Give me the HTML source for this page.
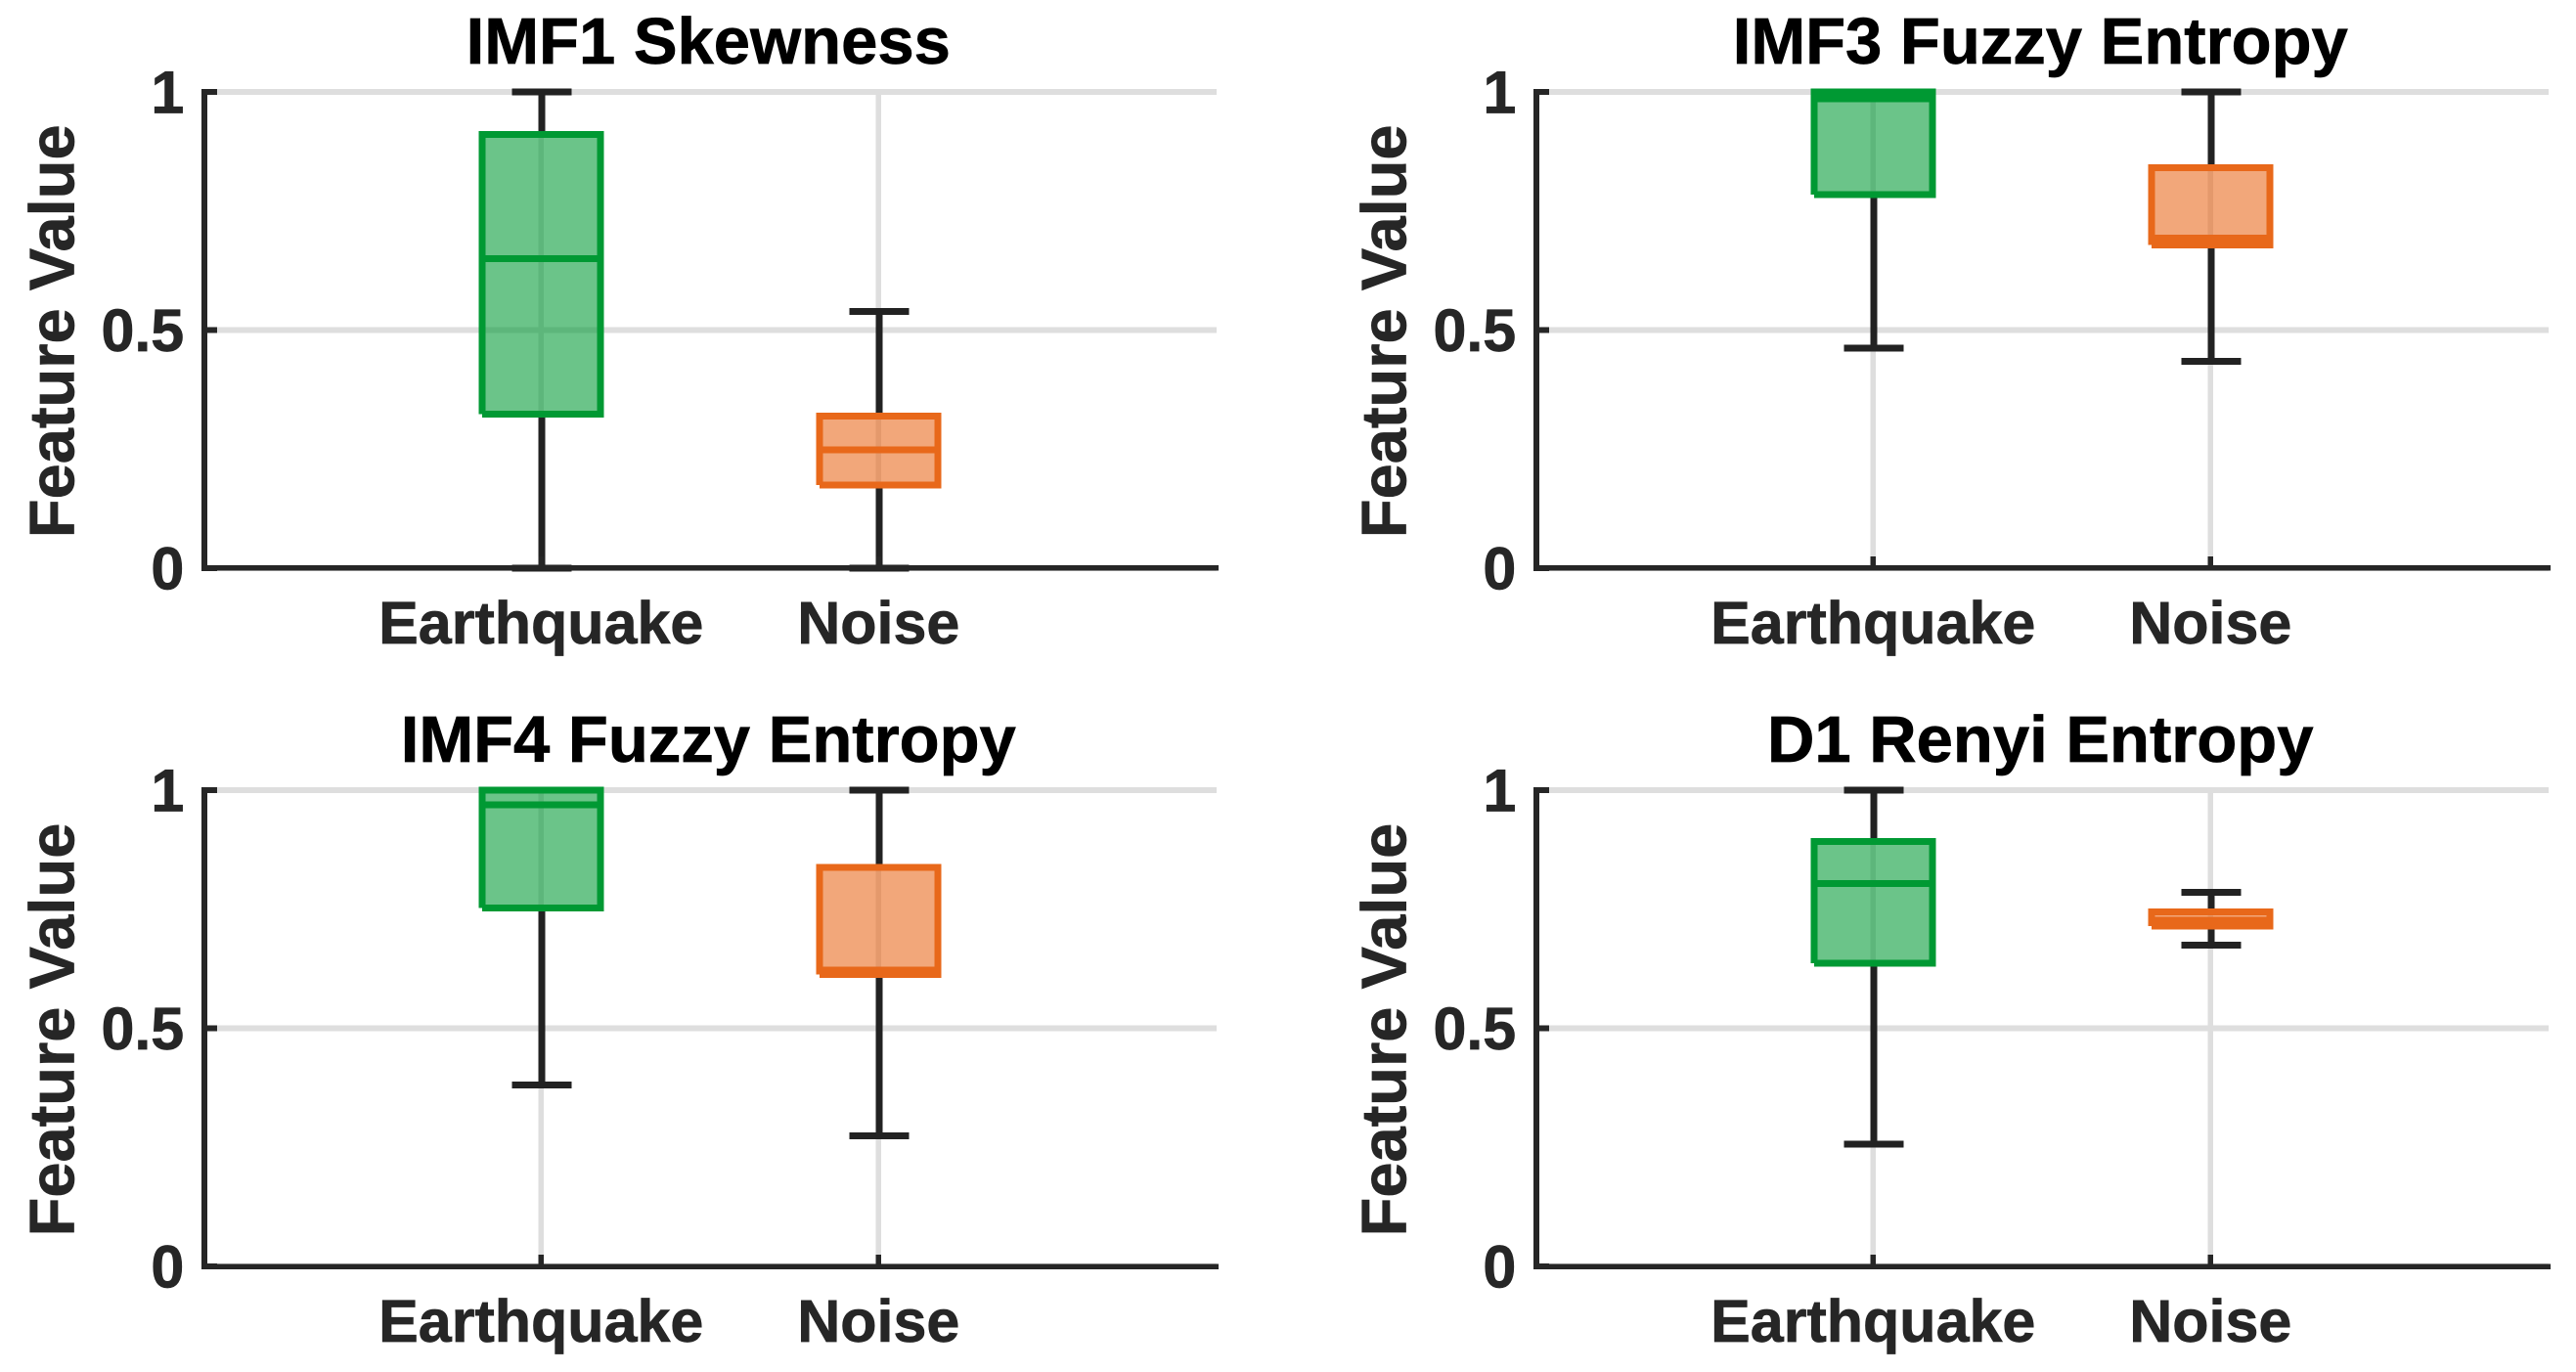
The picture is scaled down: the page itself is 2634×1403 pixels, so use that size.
<!DOCTYPE html>
<html lang="en">
<head>
<meta charset="utf-8">
<title>Feature value box plots</title>
<style>
  html, body { margin: 0; padding: 0; background: #ffffff; }
  #figure { display: block; position: absolute; left: 0; top: 0; }
  text { font-family: "Liberation Sans", Arial, sans-serif; font-weight: bold; stroke-width: 0.7px; paint-order: stroke; }
</style>
</head>
<body>
<svg id="figure" xmlns="http://www.w3.org/2000/svg" width="2634" height="1403" viewBox="0 0 2634 1403"></svg>
<script>
const panelTitles = ['IMF1 Skewness', 'IMF3 Fuzzy Entropy', 'IMF4 Fuzzy Entropy', 'D1 Renyi Entropy'];
const categories = ['Earthquake', 'Noise'];
const yAxisTitle = 'Feature Value';
const yTickValues = [0, 0.5, 1];
const yTickLabels = ['0', '0.5', '1'];

const earthquakeLow = [0, 0.461, 0.381, 0.257];
const earthquakeQ1 = [0.3225, 0.784, 0.753, 0.637];
const earthquakeMedian = [0.6495, 0.9846, 0.969, 0.804];
const earthquakeQ3 = [0.91, 1, 1, 0.892];
const earthquakeHigh = [1, 1, 1, 1];

const noiseLow = [0, 0.434, 0.2745, 0.6745];
const noiseQ1 = [0.174, 0.678, 0.613, 0.7146];
const noiseMedian = [0.248, 0.692, 0.6225, 0.727];
const noiseQ3 = [0.319, 0.84, 0.838, 0.744];
const noiseHigh = [0.538, 1, 1, 0.785];

const NS = 'http://www.w3.org/2000/svg';
const svg = document.getElementById('figure');

const AXIS_COLOR = '#262626';
const WHISKER_COLOR = '#222222';
const GRID_COLOR = '#dedede';
const GREEN = '#009933';
const ORANGE = '#e8681a';

function el(tag, parent, attrs) {
  const node = document.createElementNS(NS, tag);
  for (const key in attrs) node.setAttribute(key, attrs[key]);
  parent.appendChild(node);
  return node;
}

function drawLine(parent, x1, y1, x2, y2, color, width, name) {
  const line = el('line', parent, { x1: x1, y1: y1, x2: x2, y2: y2, stroke: color, 'stroke-width': width, 'shape-rendering': 'crispEdges' });
  
  
  return line;
}

function drawBox(parent, cx, lowY, q1Y, medY, q3Y, highY, color, slug) {
  const capHalf = 30.5;
  const boxHalf = 60.5;
  const bx = cx - 0.5;
  drawLine(parent, cx, q3Y, cx, highY, WHISKER_COLOR, 7, slug + '-upper-whisker');
  drawLine(parent, cx, q1Y, cx, lowY, WHISKER_COLOR, 7, slug + '-lower-whisker');
  drawLine(parent, cx - capHalf, highY, cx + capHalf, highY, WHISKER_COLOR, 7, slug + '-upper-cap');
  drawLine(parent, cx - capHalf, lowY, cx + capHalf, lowY, WHISKER_COLOR, 7, slug + '-lower-cap');

  const fill = el('rect', parent, { x: bx - boxHalf, y: q3Y, width: boxHalf * 2, height: q1Y - q3Y, fill: color, 'fill-opacity': 0.58, 'shape-rendering': 'crispEdges' });
  
  

  const L = bx - boxHalf, R = bx + boxHalf;
  const outline = el('path', parent, {
    d: 'M' + L + ' ' + q1Y + 'L' + L + ' ' + q3Y + 'L' + R + ' ' + q3Y + 'L' + R + ' ' + q1Y + 'L' + L + ' ' + q1Y,
    fill: 'none', stroke: color, 'stroke-width': 7, 'stroke-linejoin': 'miter', 'stroke-linecap': 'butt', 'shape-rendering': 'crispEdges'
  });
  
  

  drawLine(parent, L, medY, R, medY, color, 7, slug + '-median');
}

function drawPanel(index) {
  const col = index % 2;
  const row = Math.floor(index / 2);
  const originX = col === 0 ? 208.75 : 1570.75;
  const y0 = row === 0 ? 580.75 : 1295;
  const xUnit = 345;
  const yRange = 487;
  const axisEndX = originX + 1037;
  const xPos = function (i) { return originX + xUnit * (i + 1); };
  const yPos = function (v) { return y0 - yRange * v; };
  const xMax = originX + xUnit * 3;

  const g = el('g', svg, {});
  
  

  // grid
  yTickValues.forEach(function (v) {
    drawLine(g, originX, yPos(v), xMax, yPos(v), GRID_COLOR, 6, 'y-gridline');
  });
  categories.forEach(function (c, i) {
    drawLine(g, xPos(i) - 0.5, yPos(1), xPos(i) - 0.5, y0, GRID_COLOR, 5.5, 'x-gridline');
  });

  // boxes
  drawBox(g, xPos(0), yPos(earthquakeLow[index]), yPos(earthquakeQ1[index]), yPos(earthquakeMedian[index]), yPos(earthquakeQ3[index]), yPos(earthquakeHigh[index]), GREEN, 'earthquake');
  drawBox(g, xPos(1), yPos(noiseLow[index]), yPos(noiseQ1[index]), yPos(noiseMedian[index]), yPos(noiseQ3[index]), yPos(noiseHigh[index]), ORANGE, 'noise');

  // axes
  drawLine(g, originX, yPos(1) - 3, originX, y0 + 3, AXIS_COLOR, 6, 'y-axis-line');
  drawLine(g, originX - 3, y0, axisEndX, y0, AXIS_COLOR, 5.5, 'x-axis-line');

  // y ticks and labels
  yTickValues.forEach(function (v, i) {
    drawLine(g, originX, yPos(v), originX + 13, yPos(v), AXIS_COLOR, 6, 'y-tick');
    const label = el('text', g, { x: originX - 20.5, y: yPos(v) + 21.5, 'text-anchor': 'end', 'font-size': 61, fill: AXIS_COLOR, stroke: AXIS_COLOR });
    
    
    label.textContent = yTickLabels[i];
  });

  // x ticks and labels
  categories.forEach(function (c, i) {
    drawLine(g, xPos(i) - 0.5, y0, xPos(i) - 0.5, y0 - 12, AXIS_COLOR, 5.5, 'x-tick');
    const label = el('text', g, { x: xPos(i) - 0.5, y: y0 + 77, 'text-anchor': 'middle', 'font-size': 61, fill: AXIS_COLOR, stroke: AXIS_COLOR });
    
    
    label.textContent = c;
  });

  // title
  const title = el('text', g, { x: originX + 515.5, y: y0 - 516, 'text-anchor': 'middle', 'font-size': 67, fill: '#000000', stroke: '#000000' });
  
  
  title.textContent = panelTitles[index];

  // y axis title
  const ty = y0 - yRange / 2 + 1.5;
  const tx = originX - 133.5;
  const yTitle = el('text', g, { x: tx, y: ty, 'text-anchor': 'middle', 'font-size': 65, fill: AXIS_COLOR, stroke: AXIS_COLOR, transform: 'rotate(-90 ' + tx + ' ' + ty + ')' });
  
  
  yTitle.textContent = yAxisTitle;
}

panelTitles.forEach(function (t, i) { drawPanel(i); });
</script>
</body>
</html>
